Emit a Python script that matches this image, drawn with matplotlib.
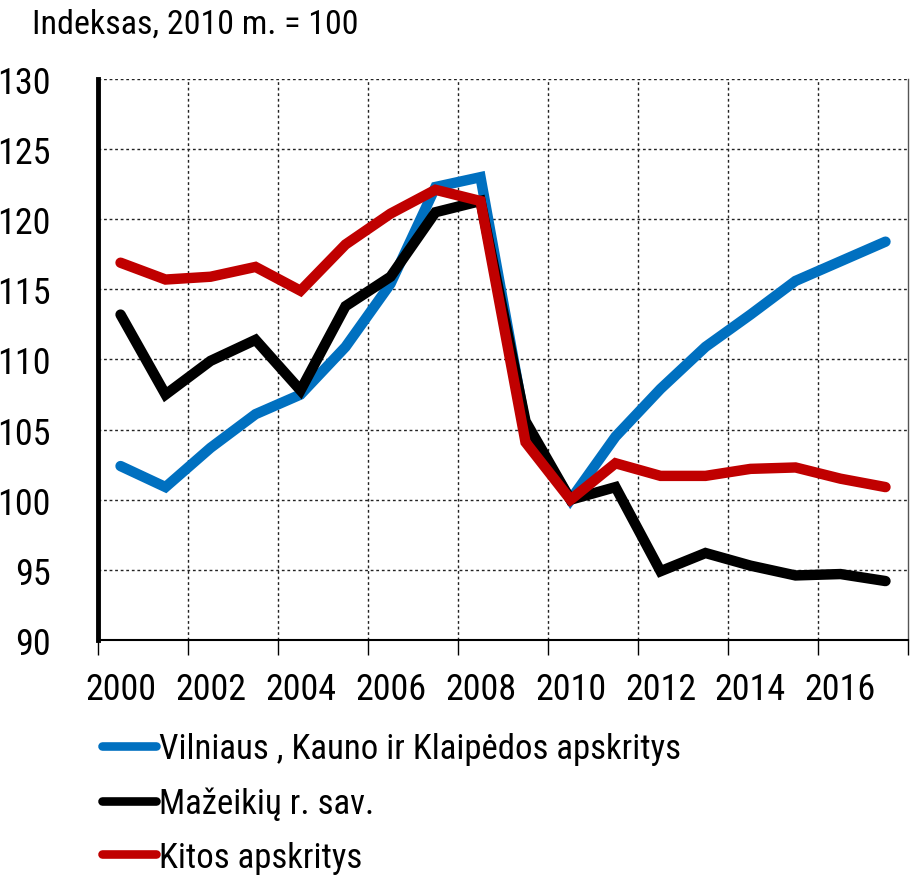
import matplotlib
matplotlib.use("Agg")
import matplotlib.pyplot as plt
from matplotlib.lines import Line2D
import numpy as np

plt.rcParams['font.family'] = ['Roboto Condensed', 'Archivo Narrow', 'Liberation Sans', 'DejaVu Sans']

years = list(range(2000, 2018))
vilnius = [102.4, 100.9, 103.7, 106.1, 107.5, 110.9, 115.4, 122.3, 123.0, 105.3,
           100.0, 104.5, 107.9, 110.9, 113.2, 115.6, 117.0, 118.4]
mazeikiai = [113.2, 107.5, 109.9, 111.4, 107.8, 113.8, 115.9, 120.5, 121.3, 105.6,
             100.0, 100.9, 94.9, 96.2, 95.3, 94.6, 94.7, 94.2]
kitos = [116.9, 115.7, 115.9, 116.6, 114.9, 118.2, 120.4, 122.1, 121.3, 104.1,
         100.0, 102.6, 101.7, 101.7, 102.2, 102.3, 101.5, 100.9]
series_labels = ["Vilniaus , Kauno ir Klaipėdos apskritys", "Mažeikių r. sav.", "Kitos apskritys"]
colors = ["#0070C0", "#000000", "#C00000"]
yticks = [90, 95, 100, 105, 110, 115, 120, 125, 130]
xtick_labels = [str(y) for y in range(2000, 2017, 2)]
title = "Indeksas, 2010 m. = 100"

fig = plt.figure(figsize=(9.12, 8.79), dpi=100)
ax = fig.add_axes([0.1075, 0.2708, 0.8881, 0.6382])

x = np.array(years) + 0.5
lw = 7.5
for ys, c in zip([vilnius, mazeikiai, kitos], colors):
    ax.plot(x, ys, color=c, lw=lw, solid_capstyle='round', solid_joinstyle='miter', clip_on=False, zorder=3)

ax.set_xlim(2000, 2018)
ax.set_ylim(90, 130)

ax.set_yticks(yticks)
ax.set_yticklabels([str(v) for v in yticks], fontsize=26)
ax.tick_params(axis='y', length=0, pad=34)
ax.yaxis.grid(True, linestyle=(0, (2, 2)), color='#222222', lw=1.0)

major = list(range(2000, 2019, 2))
ax.set_xticks(major)
ax.set_xticklabels([])
ax.tick_params(axis='x', which='major', length=11, width=1.0, direction='out')
ax.set_xticks([y + 0.5 for y in range(2000, 2017, 2)], minor=True)
ax.set_xticklabels(xtick_labels, minor=True, fontsize=26)
ax.tick_params(axis='x', which='minor', length=0, pad=22)
for xv in range(2002, 2018, 2):
    ax.axvline(xv, linestyle=(0, (2, 2)), color='#222222', lw=1.0, zorder=1)

ax.spines['left'].set_linewidth(3.5)
ax.spines['bottom'].set_linewidth(1.5)
ax.spines['right'].set_linewidth(1.0)
ax.spines['right'].set_color('#555555')
ax.spines['top'].set_visible(False)

fig.text(0.035, 0.9615, title, fontsize=24.5, ha='left', va='baseline')

handles = [Line2D([], [], color=c, lw=6.2, solid_capstyle='round') for c in colors]
fig.legend(handles, series_labels, loc='center left', bbox_to_anchor=(0.112, 0.0853),
           frameon=False, fontsize=25, handlelength=1.55, handletextpad=0.1,
           labelspacing=0.6, borderaxespad=0, borderpad=0)

fig.savefig("out.png", dpi=100)
